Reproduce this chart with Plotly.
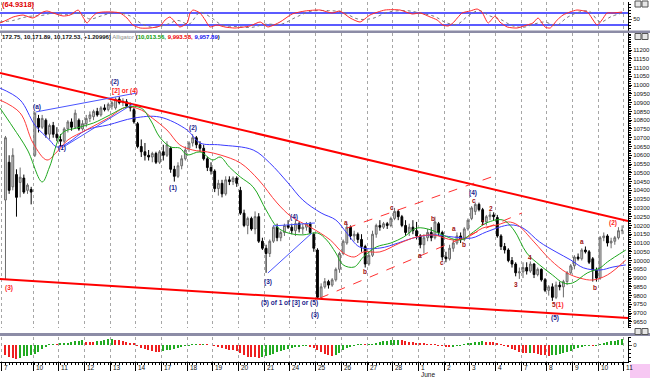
import plotly.graph_objects as go

# ---------------- data (DJIA hourly, May 6 - Jun 10 2010) ----------------
bar_index = list(range(169))
open_ = [10345,10560,10420,10490,10445,10470,10400,10405,
         10600,10810,10760,10800,10720,10770,10720,
         10690,10680,10750,10790,10760,10800,10750,
         10780,10810,10820,10850,10830,10870,10860,
         10880,10870,10920,10900,10905,10880,10860,
         10780,10650,10620,10600,10590,10610,10560,
         10620,10600,10640,10520,10480,10540,10580,
         10640,10670,10700,10660,10640,10580,10530,
         10510,10410,10440,10380,10460,10450,10470,
         10400,10270,10200,10240,10180,10250,10110,
         10070,10040,10110,10190,10130,10160,10200,
         10190,10170,10210,10180,10190,10210,10150,
         10060,9790,9850,9880,9860,9890,9950,
         10040,10100,10190,10140,10150,10120,10080,
         9980,10030,10150,10200,10190,10210,10200,
         10240,10280,10250,10200,10160,10190,10170,
         10140,10090,10130,10160,10130,10210,10160,
         10020,10010,10070,10100,10140,10120,10180,
         10240,10280,10320,10290,10220,10250,10260,
         10245,10140,10080,10060,10000,9980,9930,
         9935,9960,9940,9980,9920,9950,9890,
         9830,9850,9790,9860,9850,9880,9930,
         9970,10020,10010,10060,10050,10010,9945,
         9900,10130,10140,10100,10110,10130,10170]
high = [10710,10600,10640,10520,10530,10490,10440,10420,
        10850,10830,10830,10810,10780,10790,10760,
        10720,10760,10800,10810,10860,10810,10800,
        10830,10850,10860,10870,10880,10890,10900,
        10910,10930,10935,10925,10920,10900,10870,
        10790,10690,10670,10630,10620,10620,10630,
        10660,10680,10650,10540,10560,10600,10650,
        10680,10720,10710,10680,10660,10590,10560,
        10520,10460,10460,10480,10480,10480,10480,
        10420,10290,10250,10250,10280,10270,10130,
        10090,10120,10200,10210,10170,10210,10230,
        10210,10230,10220,10210,10220,10220,10160,
        10070,9870,9900,9890,9900,9960,10050,
        10120,10210,10200,10170,10160,10150,10090,
        10050,10170,10210,10230,10220,10220,10250,
        10300,10290,10260,10230,10210,10230,10220,
        10150,10150,10180,10190,10250,10220,10170,
        10050,10090,10120,10160,10160,10190,10240,
        10310,10330,10330,10300,10260,10280,10275,
        10260,10150,10100,10070,10020,9990,9960,
        9990,9990,9995,9985,9960,9955,9900,
        9860,9870,9880,9880,9890,9940,9980,
        10030,10040,10070,10080,10060,10020,9960,
        10140,10160,10150,10130,10140,10190,10200]
low = [9890,10380,10400,10250,10360,10380,10380,10320,
       10590,10730,10750,10700,10690,10700,10680,
       10650,10670,10730,10740,10750,10740,10740,
       10760,10790,10800,10820,10820,10850,10850,
       10860,10860,10890,10880,10870,10850,10780,
       10640,10590,10570,10570,10560,10550,10550,
       10570,10590,10500,10450,10470,10520,10570,
       10620,10650,10640,10620,10570,10510,10490,
       10390,10370,10360,10370,10430,10430,10420,
       10260,10190,10150,10170,10150,10100,10060,
       9930,10020,10100,10110,10110,10140,10180,
       10150,10140,10160,10150,10170,10150,10050,
       9780,9780,9840,9840,9850,9880,9930,
       10030,10090,10120,10110,10100,10050,9960,
       9970,10020,10130,10170,10180,10180,10190,
       10230,10230,10190,10140,10140,10150,10120,
       10070,10040,10110,10110,10120,10140,10000,
       9990,10000,10050,10090,10100,10110,10170,
       10230,10260,10280,10200,10200,10230,10230,
       10130,10060,10040,9990,9960,9910,9895,
       9900,9920,9930,9900,9910,9880,9820,
       9800,9770,9780,9830,9790,9860,9920,
       9950,10000,10000,10040,9980,9880,9880,
       9890,10110,10080,10070,10090,10120,10150]
close = [10700,10400,10600,10360,10475,10390,10430,10390,
         10840,10760,10810,10720,10770,10720,10700,
         10680,10750,10790,10760,10840,10750,10780,
         10810,10830,10850,10830,10870,10860,10890,
         10900,10920,10900,10910,10880,10870,10790,
         10650,10620,10600,10590,10610,10560,10620,
         10600,10660,10520,10480,10540,10580,10630,
         10670,10700,10660,10640,10580,10530,10510,
         10410,10440,10380,10460,10450,10470,10440,
         10270,10200,10240,10180,10250,10110,10070,
         10040,10110,10190,10130,10160,10200,10190,
         10170,10210,10180,10190,10210,10160,10070,
         9790,9850,9880,9860,9890,9950,10040,
         10110,10190,10140,10150,10120,10080,9980,
         10030,10150,10200,10190,10210,10200,10240,
         10280,10250,10200,10160,10190,10170,10140,
         10090,10130,10160,10130,10220,10160,10020,
         10010,10070,10100,10140,10120,10180,10230,
         10300,10320,10290,10220,10250,10260,10250,
         10140,10080,10060,10000,9980,9930,9935,
         9960,9940,9980,9920,9950,9890,9830,
         9850,9790,9860,9850,9880,9930,9970,
         10020,10010,10060,10050,9990,9945,9900,
         10130,10140,10100,10110,10130,10170,10172.53]

# Alligator lines (read at points along the chart)
jaw_x = [-1.5,4,8,12,14,17,22,28,35,42,49.5,53,58.5,67.5,72,77,81,86,90,93,96.5,102,107,111,116.5,122,127,131,137.5,141,145.5,150,154,157.5,162,165.5,169]
jaw_y = [10983,10915,10773,10687,10647,10670,10744,10773,10812,10818,10744,10670,10659,10630,10556,10442,10345,10271,10231,10157,10077,10071,10100,10128,10146,10134,10128,10163,10203,10185,10106,10049,10003,9958,9946,9963,9975]
teeth_x = [-1.5,4,7.5,11.3,14,17,22,28,33,37,40,44,47.5,51,55,58.5,64,69,74,78,83,88.5,92,95,97.5,102,107.5,112,116.5,122,126,130,134,137,139.5,144,148.5,153,156.5,160,164,169]
teeth_y = [10915,10841,10670,10573,10619,10687,10744,10812,10875,10858,10812,10744,10659,10630,10619,10602,10556,10459,10328,10248,10191,10117,10043,10020,10049,10049,10100,10134,10146,10117,10134,10185,10203,10220,10203,10106,10003,9929,9900,9889,9918,10003]
lips_x = [-1.5,2,6,10,12,15.5,19.5,24,28.5,33,37,39.5,42,45,47.5,49.5,53,56.5,58.5,61,64,67.5,71,74,77,81,85,87.5,90,92,95,97.5,101,105,108.5,112,116,119,124,127.5,131,135.5,138.5,142,145.5,149,152,154.5,158.5,162,164,169]
lips_y = [10869,10761,10630,10448,10533,10727,10756,10784,10830,10875,10869,10801,10704,10647,10641,10602,10619,10573,10590,10533,10476,10419,10288,10191,10157,10146,10157,10117,10043,9975,9963,10020,10077,10100,10134,10185,10174,10146,10117,10163,10214,10231,10174,10043,9975,9918,9872,9872,9929,9958,9992,10060]

# trend / channel lines (bar index, price)
upper_trend_x, upper_trend_y = [-1.5, 169.6], [11069, 10225]
lower_trend_x, lower_trend_y = [-1.5, 169.6], [9895, 9672]
chan_up_x, chan_up_y = [93, 134], [10185, 10488]
chan_lo_x, chan_lo_y = [85.7, 140.7], [9786, 10271]
tri1_top_x, tri1_top_y = [8.3, 35.8], [10847, 10955]
tri1_bot_x, tri1_bot_y = [15.4, 34.7], [10642, 10892]
tri2_top_x, tri2_top_y = [72.9, 84.3], [10197, 10214]
tri2_bot_x, tri2_bot_y = [71.5, 83.5], [9929, 10157]

# top oscillator
osc_x = [-1.5,0.4,2.1,4.8,7.5,10.2,11.3,13,15.7,17.6,19.8,21.1,22.2,23.6,24.9,26.6,29.3,31.2,33.1,34.7,36.7,39.4,42.1,43.5,44.8,46.2,47.5,49.5,50.3,51.1,53,54.4,55.7,57.6,59.8,62.5,66.6,69.4,71.5,74.8,78.1,81.6,85.7,89,91.1,93.9,96.6,99.3,103.4,107.5,110.8,113,115.7,117.6,119.2,120.6,121.9,124.4,126.6,128.5,129.8,131.5,133.4,134.7,136.7,139.4,142.1,143.7,145.1,147,148.4,150.3,151.9,153.8,155.7,158.5,161.2,162.5,163.9,165.5,168]
osc_v = [36.7,46.7,56.7,63.3,53.3,73.3,76.7,70,60,63.3,80,56.7,36.7,56.7,70,73.3,73.3,70,53.3,30,20,20,26.7,46.7,56.7,40,23.3,36.7,70,80,70,46.7,23.3,30,23.3,20,26.7,40,23.3,40,66.7,76.7,80,70,76.7,53.3,40,63.3,80,80,66.7,70,56.7,46.7,30,26.7,36.7,70,76.7,83.3,73.3,36.7,60,40,23.3,20,30,36.7,53.3,23.3,20,46.7,63.3,73.3,80,73.3,30,46.7,70,70,73.3]
sig_x = [-1.5,2,6,10,13,17,20,23,26,30,34,37,40,44,47,50,53,56,59,63,67,71,75,79,83,88,92,96,100,104,109,113,117,120,123,126,129,132,135,138,141,144,147,150,153,156,159,162,165,168]
sig_v = [40,45,58,62,70,64,70,50,60,72,60,35,22,32,45,33,72,55,30,25,22,33,32,55,75,78,72,50,52,72,78,70,58,38,32,60,78,60,48,28,22,33,40,28,55,72,76,40,58,70]
osc_levels = [70, 30]

# bottom histogram oscillator
ao = [-100,-115,-130,-140,-125,-110,-105,-100,-85,-65,-40,-20,5,8,6,12,18,25,30,40,45,48,35,32,30,38,45,55,58,60,
      55,50,42,35,25,12,-5,-25,-40,-50,-60,-65,-68,-60,-50,-45,-35,-25,-15,-8,-3,5,8,6,8,4,0,-3,-15,-25,
      -35,-45,-50,-60,-80,-100,-115,-120,-122,-125,-118,-105,-95,-85,-70,-60,-50,-40,-30,-20,-12,-10,-8,-12,-25,-45,-65,-85,-100,-105,
      -95,-75,-50,-30,-15,-5,3,5,2,5,10,20,30,38,45,48,52,55,50,42,35,30,25,18,12,8,5,2,-3,-10,
      -15,-18,-15,-8,-2,5,12,22,30,35,38,32,30,26,20,10,-5,-20,-35,-50,-65,-75,-80,-78,-82,-88,-95,-100,-105,-100,
      -95,-85,-75,-65,-55,-40,-30,-20,-10,-5,-8,-5,5,20,32,40,45,55,60]

# axis labels
day_ticks = [-1.0,7.5,14.5,21.5,28.5,35.5,42.5,49.5,56.5,63.5,70.5,77.5,84.5,91.5,98.5,105.5,112.5,119.5,126.5,133.5,140.5,147.5,154.5,161.5,168.5]
day_labels = ["7","10","11","12","13","14","17","18","19","20","21","24","25","26","27","28","1","2","3","4","7","8","9","10","11"]
price_ticks = list(range(9650, 11201, 50))

# wave labels: (text, bar index, price, colour)
NAVY, RED, MAROON = "#1c1c8c", "#ff1a1a", "#a01010"
wave_labels = [
    ("(a)", 8.6, 10875, NAVY), ("(1)", 15.4, 10641, NAVY), ("(2)", 29.8, 11018, NAVY),
    ("[2] or (4)", 32.6, 10966, RED), ("(1)", 45.6, 10413, NAVY), ("(2)", 51.1, 10755, NAVY),
    ("(3)", 71.5, 9878, NAVY), ("(4)", 78.6, 10248, NAVY), ("(5) of 1 of [3] or (5)", 77.5, 9758, NAVY),
    ("(3)", 84.3, 9690, NAVY), ("(4)", 127.4, 10385, NAVY), ("(5)", 149.7, 9672, NAVY),
    ("(3)", 0.9, 9843, RED), ("(2)", 165.5, 10214, RED),
    ("<span style='color:#a01010'>5</span>(1)", 150.5, 9747, RED),
    ("a", 92.8, 10214, MAROON), ("b", 97.9, 9935, MAROON), ("c", 105.3, 10305, MAROON),
    ("a", 112.9, 10026, MAROON), ("b", 116.5, 10242, MAROON), ("c", 119.0, 9986, MAROON),
    ("a", 122.2, 10180, MAROON), ("b", 125.0, 10089, MAROON), ("c", 127.7, 10345, MAROON),
    ("1", 130.1, 10214, MAROON), ("2", 132.3, 10299, MAROON), ("3", 139.1, 9866, MAROON),
    ("4", 142.9, 10020, MAROON), ("a", 157.1, 10106, MAROON), ("b", 160.6, 9849, MAROON),
]

# ---------------- figure ----------------
FONT = "Liberation Sans"
XR = [-1.49, 169.6]
XD = [0, 628 / 650]
H = 378.0
def py(y):
    return 1 - y / H

fig = go.Figure()

# main panel
fig.add_trace(go.Candlestick(
    x=bar_index, open=open_, high=high, low=low, close=close,
    xaxis="x2", yaxis="y2", whiskerwidth=0,
    increasing=dict(line=dict(color="#6a6a6a", width=1), fillcolor="#cfcfcf"),
    decreasing=dict(line=dict(color="#000000", width=1), fillcolor="#000000"),
    showlegend=False, hoverinfo="skip"))

for xs, ys, col in [(jaw_x, jaw_y, "#3b3bff"), (teeth_x, teeth_y, "#ff3b3b"), (lips_x, lips_y, "#1fa81f")]:
    fig.add_trace(go.Scatter(x=xs, y=ys, mode="lines", xaxis="x2", yaxis="y2",
                             line=dict(color=col, width=1, shape="spline", smoothing=1.0),
                             showlegend=False, hoverinfo="skip"))

for xs, ys, col, w, dash in [
        (upper_trend_x, upper_trend_y, "#ff0000", 2, "solid"),
        (lower_trend_x, lower_trend_y, "#ff0000", 2, "solid"),
        (chan_up_x, chan_up_y, "#ff3030", 1, "dash"),
        (chan_lo_x, chan_lo_y, "#ff3030", 1, "dash"),
        (tri1_top_x, tri1_top_y, "#4a55ff", 1, "solid"),
        (tri1_bot_x, tri1_bot_y, "#4a55ff", 1, "solid"),
        (tri2_top_x, tri2_top_y, "#4a55ff", 1, "solid"),
        (tri2_bot_x, tri2_bot_y, "#4a55ff", 1, "solid")]:
    fig.add_trace(go.Scatter(x=xs, y=ys, mode="lines", xaxis="x2", yaxis="y2",
                             line=dict(color=col, width=w, dash=dash),
                             showlegend=False, hoverinfo="skip"))

# top oscillator panel
for lv in osc_levels:
    fig.add_trace(go.Scatter(x=XR, y=[lv, lv], mode="lines", xaxis="x3", yaxis="y3",
                             line=dict(color="#2424ff", width=1.6), showlegend=False, hoverinfo="skip"))
fig.add_trace(go.Scatter(x=sig_x, y=sig_v, mode="lines", xaxis="x3", yaxis="y3",
                         line=dict(color="#7a7a7a", width=1, dash="dot", shape="spline"),
                         showlegend=False, hoverinfo="skip"))
fig.add_trace(go.Scatter(x=osc_x, y=osc_v, mode="lines", xaxis="x3", yaxis="y3",
                         line=dict(color="#ff2a2a", width=1, shape="spline", smoothing=0.6),
                         showlegend=False, hoverinfo="skip"))

# bottom histogram
ao_colors = ["#22aa22" if (i > 0 and ao[i] > ao[i - 1]) else "#ee2020" for i in range(len(ao))]
fig.add_trace(go.Bar(x=bar_index, y=ao, marker=dict(color=ao_colors, line=dict(width=0)),
                     width=0.38, xaxis="x", yaxis="y", showlegend=False, hoverinfo="skip"))

grid = dict(showgrid=True, gridcolor="#a6a6a6", griddash="dot", gridwidth=1)
tickfont = dict(family=FONT, size=6, color="#111111")

fig.update_layout(
    width=650, height=378, margin=dict(l=0, r=0, t=0, b=0),
    paper_bgcolor="white", plot_bgcolor="white", bargap=0,
    xaxis=dict(domain=XD, range=XR, anchor="y", tickmode="array", tickvals=day_ticks,
               showticklabels=False, ticks="outside", ticklen=8, tickcolor="#000",
               showline=True, linecolor="#000", zeroline=False, fixedrange=True,
               minor=dict(tickvals=bar_index, ticks="outside", ticklen=2, tickcolor="#000", showgrid=False),
               **grid),
    yaxis=dict(domain=[py(362), py(337)], range=[-170, 80], anchor="x", side="right",
               tickvals=[0], ticks="outside", ticklen=3, tickfont=tickfont, showline=True,
               linecolor="#000", showgrid=False, zeroline=False, ticklabeloverflow="allow",
               tickformat="d",
               minor=dict(dtick=40, ticks="outside", ticklen=2, tickcolor="#000")),
    xaxis2=dict(domain=XD, range=XR, anchor="y2", matches="x", tickmode="array", tickvals=day_ticks,
                showticklabels=False, ticks="", zeroline=False, rangeslider=dict(visible=False), **grid),
    yaxis2=dict(domain=[py(328), py(33)], range=[9615.4, 11296.9], anchor="x2", side="right",
                tickmode="array", tickvals=price_ticks, ticktext=[str(v) for v in price_ticks],
                ticks="outside", ticklen=3, tickcolor="#000",
                tickfont=tickfont, showline=True, linecolor="#000", showgrid=False, zeroline=False,
                ticklabeloverflow="allow",
                minor=dict(dtick=10, ticks="outside", ticklen=2, tickcolor="#000")),
    xaxis3=dict(domain=XD, range=XR, anchor="y3", matches="x", tickmode="array", tickvals=day_ticks,
                showticklabels=False, ticks="", zeroline=False, **grid),
    yaxis3=dict(domain=[py(31), py(2)], range=[10, 106.7], anchor="x3", side="right",
                tickvals=[50], ticks="outside", ticklen=3, tickfont=tickfont, showline=True,
                linecolor="#000", showgrid=False, zeroline=False, ticklabeloverflow="allow",
                tickformat="d",
                minor=dict(dtick=10, ticks="outside", ticklen=2, tickcolor="#000")),
)

shapes = []
# panel separators
for y0, y1 in [(30.5, 33), (333, 336)]:
    shapes.append(dict(type="rect", xref="paper", yref="paper", x0=0, x1=1, y0=py(y1), y1=py(y0),
                       fillcolor="#8c8ca6", line=dict(width=0), layer="above"))
# window icons
for yy in [1, 33.5, 328.5]:
    for xx in [635, 642]:
        shapes.append(dict(type="rect", xref="paper", yref="paper", x0=xx / 650, x1=(xx + 6) / 650,
                           y0=py(yy + 6), y1=py(yy), fillcolor="#e6e6e6",
                           line=dict(color="#555555", width=1), layer="above"))
# pink corner box
shapes.append(dict(type="rect", xref="paper", yref="paper", x0=630 / 650, x1=1, y0=0, y1=py(364),
                   fillcolor="#f7c8f3", line=dict(width=0)))
fig.update_layout(shapes=shapes)

ann = []
for txt, xi, pr, col in wave_labels:
    ann.append(dict(x=xi, y=pr, xref="x2", yref="y2", text="<b>" + txt + "</b>", showarrow=False,
                    font=dict(family=FONT, size=6.5, color=col)))
# date labels next to the day ticks
for tv, lab in zip(day_ticks, day_labels):
    ann.append(dict(x=tv, y=py(367), xref="x", yref="paper", xanchor="left", yanchor="middle",
                    xshift=0.5, text=lab, showarrow=False, font=dict(family=FONT, size=6.5, color="#111")))
ann.append(dict(x=day_ticks[16], y=py(374), xref="x", yref="paper", xanchor="left", yanchor="middle",
                xshift=0.5, text="June", showarrow=False, font=dict(family=FONT, size=6.5, color="#111")))
ann.append(dict(x=0, y=py(4), xref="paper", yref="paper", xanchor="left", yanchor="middle",
                text="<b>(64.9318)</b>", showarrow=False, font=dict(family=FONT, size=7.5, color="#e00000")))
ann.append(dict(x=0, y=py(37.5), xref="paper", yref="paper", xanchor="left", yanchor="middle",
                text=("<b>172.75, 10,171.89, 10,172.53, +1.20996)</b> <span style='color:#8a8a8a'>Alligator</span> "
                      "<b>(<span style='color:#0a9a0a'>10,013.56,</span> <span style='color:#ee0000'>9,993.58,</span> "
                      "<span style='color:#1010ee'>9,957.89</span>)</b>"),
                showarrow=False, font=dict(family=FONT, size=6, color="#111")))
fig.update_layout(annotations=ann)

fig.write_html("out.html", config={"displayModeBar": False},
               post_script="document.body.style.margin='0px';document.body.style.overflow='hidden';")
